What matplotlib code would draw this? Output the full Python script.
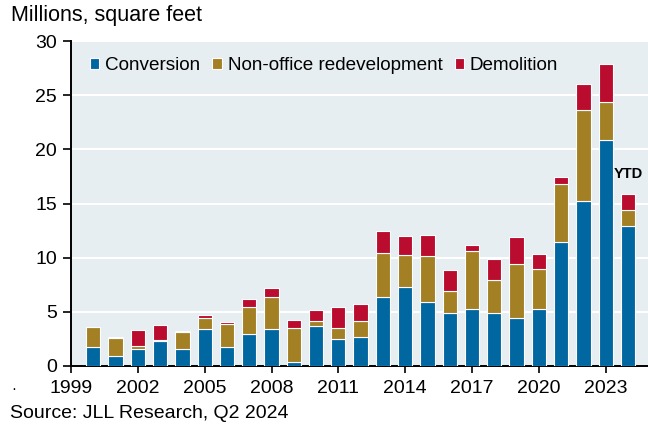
# office space removed from inventory, by type

import numpy as np
from matplotlib import pyplot as plt

plt.rcParams['font.family'] = ['Liberation Sans', 'DejaVu Sans']

years = list(range(2000, 2025))
conversion = [1.78, 0.95, 1.56, 2.33, 1.60, 3.44, 1.78, 2.91, 3.44, 0.40,
              3.65, 2.45, 2.67, 6.38, 7.30, 5.92, 4.91, 5.28, 4.91, 4.45,
              5.28, 11.41, 15.28, 20.86, 12.94]
redevelopment = [1.84, 1.65, 0.31, 0.10, 1.56, 0.95, 2.05, 2.52, 2.97, 3.07,
                 0.52, 1.02, 1.50, 4.08, 2.98, 4.20, 2.05, 5.36, 3.03, 5.00,
                 3.71, 5.39, 8.37, 3.53, 1.48]
demolition = [0.0, 0.05, 1.44, 1.32, 0.09, 0.33, 0.19, 0.77, 0.83, 0.73,
              1.01, 1.99, 1.53, 1.96, 1.68, 2.00, 1.94, 0.53, 1.97, 2.48,
              1.32, 0.69, 2.35, 3.49, 1.50]

blue = '#0067a0'
gold = '#a38023'
red = '#ba0c2f'

fig = plt.figure(figsize=(6.48, 4.29), dpi=100)
ax = fig.add_axes([0.1096, 0.147, 0.8904, 0.757])
ax.set_facecolor('#e6eef2')

x = np.array(years)
c = np.array(conversion)
r = np.array(redevelopment)
d = np.array(demolition)
w = 0.64
ax.bar(x, c, w, color=blue, edgecolor='white', linewidth=0.8, label='Conversion', zorder=3)
ax.bar(x, r, w, bottom=c, color=gold, edgecolor='white', linewidth=0.8,
       label='Non-office redevelopment', zorder=3)
ax.bar(x, d, w, bottom=c + r, color=red, edgecolor='white', linewidth=0.8,
       label='Demolition', zorder=3)

ax.text(2024, 17.1, 'YTD', ha='center', va='bottom', fontsize=10.5, fontweight='bold')

ax.set_xlim(1999, 2024.9)
ax.set_ylim(0, 30)
ax.set_yticks(range(0, 31, 5))
ax.set_xticks(range(1999, 2024, 3))
ax.grid(axis='y', color='white', linewidth=1.5, zorder=1)
ax.tick_params(axis='both', labelsize=14, direction='out', width=1.2, color='black')
ax.tick_params(axis='y', length=6, pad=4)
ax.tick_params(axis='x', length=5, pad=5)
for s in ['top', 'right']:
    ax.spines[s].set_visible(False)
for s in ['left', 'bottom']:
    ax.spines[s].set_linewidth(1.4)

ax.legend(loc='upper left', ncol=3, frameon=False, fontsize=13.6, handlelength=0.5,
          handleheight=0.5, handletextpad=0.3, columnspacing=0.65,
          bbox_to_anchor=(0.005, 1.0), borderaxespad=0.45)

fig.text(0.017, 0.965, 'Millions, square feet', fontsize=15.5, va='center', ha='left')
fig.text(0.017, 0.094, '·', fontsize=11, va='center', ha='left')
fig.text(0.015, 0.037, 'Source: JLL Research, Q2 2024', fontsize=14, va='center', ha='left')

plt.savefig('out.png', dpi=100)
